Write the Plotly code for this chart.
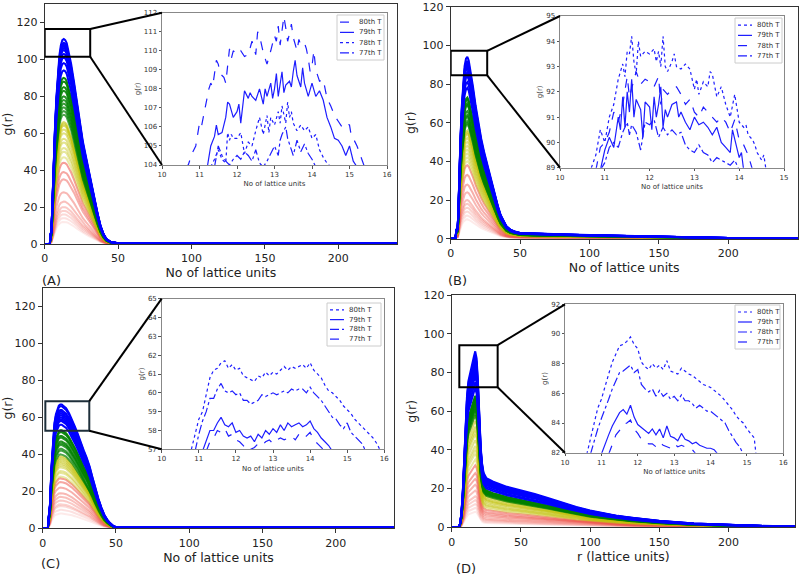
import plotly.graph_objects as go

# ---------------- main-panel data ----------------
# profile of one curve (normalised to its peak) and the peak height of each curve
A_x = [0, 3.5, 4, 4.5, 5, 6, 7, 8, 9, 10, 11, 12, 13, 14, 15, 16, 18, 20, 22, 24, 26, 28, 30, 32, 34, 36, 38, 40, 42, 45, 50, 240]
A_profile = [0, 0, 0.05, 0.06, 0.15, 0.38, 0.57, 0.72, 0.84, 0.92, 0.97, 0.995, 1.0, 0.995, 0.98, 0.95, 0.88, 0.79, 0.69, 0.59, 0.50, 0.43, 0.36, 0.29, 0.21, 0.15, 0.09, 0.05, 0.025, 0.01, 0.004, 0.004]
A_red = [12, 14, 16, 18, 20, 23, 28, 35, 39, 44]
A_yellow = [47, 50, 52, 55, 57, 60, 62, 64, 65, 66]
A_green = [70, 72, 74, 76, 78, 80, 83, 85, 88, 90]
A_blue = [94, 98, 101, 103, 105, 106, 107, 108, 109, 111]

B_x = [0, 3.5, 4, 5, 5.5, 6, 7, 8, 9, 10, 11, 12, 13, 14, 16, 18, 20, 22, 24, 26, 28, 30, 32, 34, 36, 38, 40, 43, 46, 50, 60, 80, 100, 130, 160, 200, 250]
B_profile = [0, 0, 0.05, 0.06, 0.15, 0.3, 0.55, 0.73, 0.86, 0.95, 0.99, 1.0, 0.98, 0.94, 0.84, 0.73, 0.63, 0.55, 0.48, 0.42, 0.36, 0.29, 0.23, 0.18, 0.13, 0.1, 0.07, 0.05, 0.04, 0.032, 0.028, 0.024, 0.02, 0.014, 0.008, 0.004, 0.003]
B_red = [10, 12, 14, 16, 18, 20, 24, 28, 33, 38]
B_yellow = [40, 42, 44, 46, 48, 50, 52, 54, 55, 56]
B_green = [59, 60, 61, 63, 64, 66, 69, 70, 72, 73]
B_blue = [78, 81, 84, 86, 88, 89, 90, 91, 92, 94]

C_x = [0, 3.5, 4, 5, 6, 7, 8, 9, 10, 11, 12, 13, 14, 16, 18, 20, 22, 24, 26, 28, 30, 32, 34, 36, 38, 40, 42, 44, 46, 48, 50, 240]
C_profile = [0, 0, 0.08, 0.2, 0.5, 0.72, 0.85, 0.92, 0.96, 0.99, 1.0, 1.0, 0.99, 0.97, 0.93, 0.88, 0.82, 0.76, 0.69, 0.63, 0.57, 0.5, 0.41, 0.32, 0.24, 0.17, 0.11, 0.07, 0.04, 0.02, 0.01, 0.008]
C_red = [8, 10, 12, 13, 15, 17, 19, 22, 25, 27]
C_yellow = [28, 30, 31, 33, 34, 35, 36, 37, 38, 39]
C_green = [40, 42, 43, 45, 46, 47, 49, 50, 52, 53]
C_blue = [56, 58, 59, 60, 61, 62, 63, 64, 66, 67]

D_x = [0, 5, 6, 7, 8, 9, 10, 11, 12, 13, 14, 15, 16, 17, 18, 19, 20, 21, 22, 23, 25, 30, 40, 50, 60, 70, 80, 90, 100, 110, 120, 130, 150, 175, 200, 225, 248]
D_profile = [0, 0, 0.02, 0.08, 0.2, 0.38, 0.58, 0.74, 0.83, 0.87, 0.9, 0.93, 0.97, 1.0, 0.96, 0.82, 0.62, 0.45, 0.36, 0.31, 0.28, 0.26, 0.23, 0.21, 0.19, 0.165, 0.14, 0.115, 0.095, 0.08, 0.065, 0.055, 0.037, 0.022, 0.014, 0.008, 0.005]
D_red = [8, 10, 12, 14, 16, 19, 22, 25, 28, 32]
D_yellow = [35, 38, 40, 42, 45, 48, 50, 52, 55, 58]
D_green = [58, 60, 61, 62, 63, 64, 65, 66, 67, 68]
D_blue = [72, 75, 78, 80, 82, 84, 86, 88, 89, 91]

# ---------------- inset data ----------------
IA80_x = [10.6, 10.7, 10.8, 10.9, 11.0, 11.05, 11.1, 11.2, 11.25, 11.3, 11.35, 11.45, 11.5, 11.55, 11.65, 11.7, 11.8, 11.85, 11.9, 12.0, 12.1, 12.2, 12.3, 12.4, 12.5, 12.55, 12.6, 12.7, 12.8, 12.9, 13.0, 13.05, 13.1, 13.15, 13.2, 13.25, 13.3, 13.35, 13.4, 13.45, 13.5, 13.6, 13.65, 13.7, 13.8, 13.85, 13.9, 13.95, 14.0, 14.05, 14.1, 14.2, 14.3, 14.4, 14.5, 14.6, 14.7, 14.8, 14.9, 15.0, 15.05, 15.1, 15.2, 15.3, 15.35, 15.4]
IA80_y = [103.9, 104.0, 104.6, 105.0, 106.2, 106.0, 106.5, 107.6, 108.0, 108.3, 108.1, 109.5, 109.3, 108.8, 108.6, 108.3, 110.1, 109.6, 110.0, 109.8, 110.0, 109.7, 109.8, 110.5, 109.8, 111.0, 110.8, 109.9, 109.3, 110.0, 110.8, 110.5, 111.3, 110.3, 111.1, 111.8, 111.2, 110.5, 110.9, 111.4, 110.7, 110.0, 110.6, 110.3, 110.4, 110.1, 109.6, 108.9, 109.2, 110.0, 109.0, 108.4, 108.5, 107.5, 107.1, 106.6, 106.3, 106.0, 106.2, 106.1, 105.5, 105.4, 105.0, 104.5, 104.2, 103.9]
IA79_x = [11.2, 11.3, 11.4, 11.45, 11.5, 11.6, 11.7, 11.75, 11.8, 11.85, 11.9, 12.0, 12.05, 12.1, 12.2, 12.3, 12.35, 12.4, 12.5, 12.6, 12.7, 12.75, 12.8, 12.9, 12.95, 13.0, 13.05, 13.1, 13.2, 13.25, 13.3, 13.4, 13.45, 13.5, 13.55, 13.6, 13.7, 13.75, 13.8, 13.9, 14.0, 14.1, 14.2, 14.3, 14.4, 14.5, 14.6, 14.7, 14.8, 14.9, 15.0, 15.1, 15.2]
IA79_y = [103.8, 105.0, 105.5, 106.1, 105.6, 105.7, 106.5, 107.3, 107.2, 106.8, 106.5, 106.8, 107.2, 106.2, 107.9, 107.5, 107.8, 107.6, 107.4, 108.0, 107.2, 108.0, 107.6, 108.3, 107.5, 108.0, 108.8, 107.6, 108.9, 107.8, 108.2, 108.4, 108.1, 108.9, 109.5, 108.7, 108.1, 109.1, 108.3, 107.6, 108.3, 107.6, 107.9, 107.4, 106.5, 106.0, 105.4, 105.3, 105.0, 104.5, 105.0, 104.2, 103.9]
IA78_x = [11.3, 11.4, 11.5, 11.6, 11.7, 11.75, 11.8, 11.85, 11.9, 12.0, 12.1, 12.2, 12.3, 12.4, 12.5, 12.6, 12.7, 12.8, 12.85, 12.9, 13.0, 13.1, 13.15, 13.2, 13.3, 13.35, 13.4, 13.45, 13.5, 13.6, 13.7, 13.8, 13.9, 14.0, 14.1, 14.2, 14.3, 14.4, 14.5]
IA78_y = [103.9, 104.3, 104.8, 104.3, 104.1, 105.7, 105.3, 105.6, 105.4, 105.4, 105.7, 104.6, 105.2, 105.0, 105.8, 106.5, 105.6, 106.6, 105.7, 106.5, 106.1, 106.8, 106.2, 107.1, 106.2, 107.3, 106.5, 106.8, 106.2, 105.8, 106.1, 105.8, 106.0, 105.4, 105.6, 104.8, 104.4, 104.1, 103.9]
IA77_x = [11.4, 11.5, 11.6, 11.7, 11.8, 11.9, 12.0, 12.1, 12.2, 12.3, 12.4, 12.5, 12.6, 12.7, 12.8, 12.9, 13.0, 13.1, 13.15, 13.2, 13.3, 13.35, 13.4, 13.5, 13.6, 13.7, 13.8, 13.9, 14.0, 14.1]
IA77_y = [103.9, 105.0, 104.5, 104.2, 104.0, 104.3, 104.5, 104.3, 104.7, 104.5, 104.2, 104.8, 104.1, 103.9, 104.2, 104.6, 105.0, 104.5, 105.3, 105.6, 106.0, 105.4, 105.1, 104.5, 105.3, 104.7, 105.1, 104.6, 104.3, 103.9]

IB80_x = [10.7, 10.8, 10.9, 11.0, 11.1, 11.2, 11.3, 11.4, 11.45, 11.5, 11.55, 11.6, 11.65, 11.7, 11.75, 11.8, 11.9, 12.0, 12.1, 12.15, 12.2, 12.25, 12.3, 12.35, 12.4, 12.5, 12.55, 12.6, 12.7, 12.8, 12.9, 13.0, 13.05, 13.1, 13.2, 13.3, 13.35, 13.4, 13.5, 13.6, 13.7, 13.75, 13.8, 13.9, 14.0, 14.1, 14.15, 14.2, 14.3, 14.35, 14.4, 14.5, 14.55, 14.6]
IB80_y = [89.0, 89.5, 90.5, 90.0, 91.0, 91.5, 92.5, 93.1, 92.6, 93.6, 93.5, 94.2, 93.2, 92.7, 94.0, 93.4, 93.6, 93.5, 93.7, 93.2, 93.6, 93.0, 94.2, 93.0, 92.8, 93.2, 93.5, 93.0, 92.9, 93.1, 92.9, 92.1, 92.5, 91.9, 92.4, 92.2, 92.8, 92.7, 91.8, 92.2, 91.5, 91.2, 91.0, 91.9, 90.8, 90.6, 90.7, 90.3, 90.1, 89.9, 89.6, 89.3, 89.5, 88.9]
IB79_x = [10.9, 11.0, 11.1, 11.2, 11.3, 11.35, 11.4, 11.45, 11.5, 11.55, 11.6, 11.65, 11.7, 11.8, 11.85, 11.9, 12.0, 12.05, 12.1, 12.15, 12.2, 12.25, 12.3, 12.35, 12.4, 12.5, 12.6, 12.65, 12.7, 12.8, 12.9, 13.0, 13.1, 13.2, 13.3, 13.4, 13.5, 13.6, 13.7, 13.8, 13.85, 13.9, 14.0, 14.05, 14.1]
IB79_y = [88.9, 89.7, 90.2, 89.8, 91.0, 90.5, 91.8, 90.6, 92.0, 91.2, 92.5, 91.0, 91.7, 91.3, 90.2, 91.6, 91.4, 90.5, 91.8, 91.0, 91.5, 92.2, 90.6, 91.3, 91.0, 91.5, 91.6, 91.0, 91.2, 90.8, 90.5, 91.0, 90.7, 90.8, 90.6, 90.3, 90.6, 90.0, 89.8, 89.6, 90.5, 90.1, 89.4, 89.6, 88.9]
IB78_x = [10.8, 10.9, 11.0, 11.1, 11.2, 11.3, 11.4, 11.5, 11.55, 11.6, 11.7, 11.8, 11.9, 12.0, 12.1, 12.2, 12.25, 12.3, 12.4, 12.5, 12.6, 12.7, 12.8, 12.9, 13.0, 13.1, 13.2, 13.3, 13.4, 13.5, 13.6, 13.7, 13.8, 13.9, 14.0, 14.1, 14.2, 14.3]
IB78_y = [88.9, 89.8, 90.0, 90.4, 91.2, 90.8, 91.5, 92.6, 91.8, 92.1, 92.8, 92.3, 92.5, 92.4, 92.2, 92.6, 91.5, 92.1, 91.9, 92.1, 92.2, 91.9, 91.5, 91.7, 91.2, 91.0, 91.4, 91.2, 91.0, 90.8, 91.0, 90.8, 90.4, 90.9, 90.1, 89.9, 89.5, 88.9]
IB77_x = [10.9, 11.0, 11.1, 11.2, 11.3, 11.4, 11.5, 11.55, 11.6, 11.7, 11.8, 11.9, 12.0, 12.1, 12.2, 12.3, 12.4, 12.5, 12.6, 12.7, 12.8, 12.9, 13.0, 13.1, 13.2, 13.3, 13.4, 13.5, 13.6, 13.7, 13.8, 13.9, 14.0]
IB77_y = [88.9, 89.2, 89.8, 90.0, 89.8, 90.4, 90.8, 90.3, 90.7, 90.4, 89.7, 90.8, 90.7, 90.9, 90.2, 90.6, 90.3, 90.5, 90.3, 90.4, 89.9, 89.7, 89.6, 89.9, 89.6, 89.5, 89.2, 89.4, 89.3, 89.2, 89.1, 89.3, 88.9]

IC80_x = [10.8, 10.9, 11.0, 11.1, 11.2, 11.3, 11.4, 11.5, 11.6, 11.7, 11.8, 11.9, 12.0, 12.1, 12.2, 12.3, 12.4, 12.5, 12.6, 12.7, 12.8, 12.9, 13.0, 13.1, 13.2, 13.3, 13.4, 13.5, 13.6, 13.7, 13.8, 13.9, 14.0, 14.1, 14.2, 14.3, 14.4, 14.5, 14.6, 14.7, 14.8, 14.9, 15.0, 15.1, 15.2, 15.3, 15.4, 15.5, 15.6, 15.7, 15.8, 15.9]
IC80_y = [57.0, 57.8, 58.6, 59.0, 60.0, 60.8, 61.2, 61.3, 61.6, 61.7, 61.3, 61.5, 61.2, 61.3, 60.9, 60.8, 60.7, 60.6, 60.9, 60.8, 61.1, 60.9, 61.1, 61.0, 61.2, 61.4, 61.2, 61.4, 61.3, 61.4, 61.5, 61.3, 61.6, 61.2, 61.0, 60.8, 60.4, 60.1, 60.0, 59.8, 59.6, 59.3, 59.1, 58.9, 58.6, 58.4, 58.2, 58.0, 57.8, 57.6, 57.3, 56.9]
IC79_x = [11.1, 11.2, 11.3, 11.4, 11.5, 11.6, 11.7, 11.8, 11.9, 12.0, 12.1, 12.2, 12.3, 12.4, 12.5, 12.6, 12.7, 12.8, 12.9, 13.0, 13.1, 13.2, 13.3, 13.4, 13.5, 13.6, 13.7, 13.8, 13.9, 14.0, 14.1, 14.2, 14.3, 14.4, 14.5, 14.6]
IC79_y = [56.9, 57.5, 58.0, 58.0, 58.4, 58.7, 58.3, 58.2, 58.4, 57.9, 58.0, 57.7, 57.6, 57.7, 57.4, 57.8, 57.6, 58.0, 57.8, 58.1, 57.9, 58.3, 58.0, 58.4, 58.2, 58.3, 58.4, 58.2, 58.3, 58.5, 58.1, 57.9, 57.6, 57.4, 57.2, 56.9]
IC78_x = [10.9, 11.0, 11.1, 11.2, 11.3, 11.4, 11.5, 11.6, 11.7, 11.8, 11.9, 12.0, 12.1, 12.2, 12.3, 12.4, 12.5, 12.6, 12.7, 12.8, 12.9, 13.0, 13.1, 13.2, 13.3, 13.4, 13.5, 13.6, 13.7, 13.8, 13.9, 14.0, 14.1, 14.2, 14.3, 14.4, 14.5, 14.6, 14.7, 14.8, 14.9, 15.0, 15.1, 15.2, 15.3, 15.4, 15.5]
IC78_y = [56.9, 57.8, 58.5, 59.0, 59.7, 59.7, 60.2, 60.5, 60.1, 60.0, 60.1, 59.9, 60.0, 59.6, 59.6, 59.4, 59.5, 59.6, 59.9, 59.8, 59.9, 60.0, 59.9, 60.0, 60.1, 60.0, 60.2, 60.1, 60.2, 60.2, 60.0, 60.3, 60.0, 59.8, 59.6, 59.3, 59.0, 58.7, 58.6, 58.3, 58.1, 58.4, 57.9, 57.7, 57.5, 57.3, 56.9]
IC77_x = [11.2, 11.3, 11.4, 11.5, 11.6, 11.7, 11.8, 11.9, 12.0, 12.1, 12.2, 12.3, 12.4, 12.5, 12.6, 12.7, 12.8, 12.9, 13.0, 13.1, 13.2, 13.3, 13.4, 13.5, 13.6, 13.7, 13.8, 13.9, 14.0, 14.1, 14.2, 14.3, 14.4]
IC77_y = [56.9, 57.4, 57.6, 58.0, 57.9, 58.1, 57.7, 57.8, 57.5, 57.4, 57.2, 56.9, 57.0, 57.1, 57.3, 57.2, 57.4, 57.5, 57.3, 57.5, 57.6, 57.5, 57.6, 57.7, 57.5, 57.8, 57.6, 57.7, 57.9, 57.5, 57.3, 57.1, 56.9]

ID80_x = [10.6, 10.7, 10.8, 10.9, 11.0, 11.1, 11.2, 11.3, 11.4, 11.5, 11.6, 11.7, 11.8, 11.9, 12.0, 12.1, 12.2, 12.3, 12.4, 12.5, 12.6, 12.7, 12.8, 12.9, 13.0, 13.1, 13.2, 13.3, 13.4, 13.5, 13.6, 13.7, 13.8, 13.9, 14.0, 14.1, 14.2, 14.3, 14.4, 14.5, 14.6, 14.7, 14.8, 14.9, 15.0, 15.1, 15.2, 15.25]
ID80_y = [81.9, 83.0, 84.0, 85.0, 85.6, 86.5, 87.3, 88.1, 88.6, 89.2, 89.3, 89.5, 89.8, 89.3, 89.0, 88.1, 87.8, 87.6, 88.0, 87.7, 87.9, 87.6, 88.2, 87.5, 87.4, 87.3, 87.7, 87.5, 87.3, 87.2, 87.0, 86.8, 86.6, 86.5, 86.4, 86.2, 86.0, 85.8, 85.5, 85.2, 84.9, 84.5, 84.2, 84.0, 83.6, 83.3, 83.0, 81.9]
ID79_x = [11.0, 11.1, 11.2, 11.3, 11.4, 11.5, 11.6, 11.7, 11.8, 11.9, 12.0, 12.1, 12.2, 12.3, 12.4, 12.5, 12.6, 12.7, 12.8, 12.9, 13.0, 13.1, 13.2, 13.3, 13.4, 13.5, 13.6, 13.7, 13.8, 13.9, 14.0, 14.1, 14.2]
ID79_y = [81.9, 82.6, 83.2, 83.8, 84.3, 84.7, 84.9, 84.6, 85.2, 84.4, 83.9, 83.7, 83.5, 83.3, 83.6, 83.2, 83.6, 83.0, 83.8, 83.1, 83.0, 82.8, 83.3, 82.9, 82.8, 82.6, 82.7, 82.5, 82.4, 82.3, 82.3, 82.2, 81.9]
ID78_x = [10.7, 10.8, 10.9, 11.0, 11.1, 11.2, 11.3, 11.4, 11.5, 11.6, 11.7, 11.8, 11.9, 12.0, 12.1, 12.2, 12.3, 12.4, 12.5, 12.6, 12.7, 12.8, 12.9, 13.0, 13.1, 13.2, 13.3, 13.4, 13.5, 13.6, 13.7, 13.8, 13.9, 14.0, 14.1, 14.2, 14.3, 14.4, 14.5, 14.6, 14.7, 14.8, 14.9]
ID78_y = [81.9, 82.8, 83.6, 84.3, 84.9, 85.6, 86.3, 86.8, 87.4, 87.5, 87.7, 87.9, 87.4, 87.6, 86.6, 86.3, 86.1, 86.3, 85.8, 86.2, 85.8, 86.0, 85.6, 85.8, 85.5, 85.9, 85.5, 85.5, 85.3, 85.0, 85.2, 85.0, 84.8, 84.8, 84.6, 84.4, 84.2, 84.0, 83.5, 83.1, 82.7, 82.4, 81.9]
ID77_x = [11.2, 11.3, 11.4, 11.5, 11.6, 11.7, 11.8, 11.9, 12.0, 12.1, 12.2, 12.3, 12.4, 12.5, 12.6, 12.7, 12.8, 12.9, 13.0, 13.1, 13.2, 13.3, 13.4, 13.5, 13.6]
ID77_y = [81.9, 82.6, 83.2, 83.5, 83.9, 84.0, 84.2, 83.6, 83.3, 82.9, 82.7, 82.6, 82.6, 82.4, 82.7, 82.5, 82.4, 82.3, 82.6, 82.4, 82.5, 82.4, 82.3, 82.2, 81.9]

# ---------------- layout geometry (pixels of the 800x576 page) ----------------
W, H = 800, 576
FONT = "DejaVu Sans"
INSET_BLUE = "rgb(30,30,255)"


def px_x(p):
    return p / W


def px_y(p):
    return 1 - p / H


panels = {
    "A": dict(xd=[px_x(44.7), px_x(397)], yd=[px_y(244), px_y(4)], xr=[0, 240], yr=[0, 130],
              xt="No of lattice units", lab=(40, 280),
              prof=(A_x, A_profile), groups=(A_red, A_yellow, A_green, A_blue),
              rect=(0, 31, 101.4, 116.5), rectcol="black",
              ixd=[px_x(162), px_x(387)], iyd=[px_y(165), px_y(12.7)], ixr=[10, 16], iyr=[104, 112],
              ixt=[10, 11, 12, 13, 14, 15, 16], iyt=[104, 105, 106, 107, 108, 109, 110, 111, 112],
              leg=(337, 15, 47, 45),
              lines=[("80th T", IA80_x, IA80_y, "dash"), ("79th T", IA79_x, IA79_y, "solid"),
                     ("78th T", IA78_x, IA78_y, "dot"), ("77th T", IA77_x, IA77_y, "dashdot")]),
    "B": dict(xd=[px_x(450.7), px_x(797.7)], yd=[px_y(238.7), px_y(6.7)], xr=[0, 250], yr=[0, 120],
              xt="No of lattice units", lab=(446, 280),
              prof=(B_x, B_profile), groups=(B_red, B_yellow, B_green, B_blue),
              rect=(0, 26.3, 84.5, 97.2), rectcol="black",
              ixd=[px_x(560), px_x(784)], iyd=[px_y(167.7), px_y(16)], ixr=[10, 15], iyr=[89, 95],
              ixt=[10, 11, 12, 13, 14, 15], iyt=[89, 90, 91, 92, 93, 94, 95],
              leg=(735, 18, 47, 45),
              lines=[("80th T", IB80_x, IB80_y, "dot"), ("79th T", IB79_x, IB79_y, "solid"),
                     ("78th T", IB78_x, IB78_y, "dash"), ("77th T", IB77_x, IB77_y, "dashdot")]),
    "C": dict(xd=[px_x(42.7), px_x(394.3)], yd=[px_y(528.3), px_y(288)], xr=[0, 240], yr=[0, 130],
              xt="No of lattice units", lab=(39, 563),
              prof=(C_x, C_profile), groups=(C_red, C_yellow, C_green, C_blue),
              rect=(1.8, 31.8, 52.8, 68.8), rectcol="#1e2f3a",
              ixd=[px_x(161.7), px_x(384.3)], iyd=[px_y(449.3), px_y(298.7)], ixr=[10, 16], iyr=[57, 65],
              ixt=[10, 11, 12, 13, 14, 15, 16], iyt=[57, 58, 59, 60, 61, 62, 63, 64, 65],
              leg=(327, 303, 54, 43),
              lines=[("80th T", IC80_x, IC80_y, "dot"), ("79th T", IC79_x, IC79_y, "solid"),
                     ("78th T", IC78_x, IC78_y, "dashdot"), ("77th T", IC77_x, IC77_y, "dash")]),
    "D": dict(xd=[px_x(451.7), px_x(795)], yd=[px_y(527.3), px_y(295.3)], xr=[0, 248], yr=[0, 120],
              xt="r (lattice units)", lab=(454, 568),
              prof=(D_x, D_profile), groups=(D_red, D_yellow, D_green, D_blue),
              rect=(5.5, 33.2, 72.4, 94.2), rectcol="black",
              ixd=[px_x(565), px_x(783.3)], iyd=[px_y(452.7), px_y(304.3)], ixr=[10, 16], iyr=[82, 92],
              ixt=[10, 11, 12, 13, 14, 15, 16], iyt=[82, 84, 86, 88, 90, 92],
              leg=(735, 305, 45, 44),
              lines=[("80th T", ID80_x, ID80_y, "dot"), ("79th T", ID79_x, ID79_y, "solid"),
                     ("78th T", ID78_x, ID78_y, "dashdot"), ("77th T", ID77_x, ID77_y, "dash")]),
}

group_styles = [((238, 80, 70), 0.12, 0.55, 2.0),
                ((191, 191, 0), 0.35, 0.6, 2.0),
                ((0, 128, 0), 0.7, 0.95, 2.0),
                ((0, 0, 255), 1.0, 1.0, 2.0)]

fig = go.Figure()
layout = dict(width=W, height=H, margin=dict(l=0, r=0, t=0, b=0, pad=0), autosize=False,
              template="none", showlegend=False,
              paper_bgcolor="white", plot_bgcolor="white",
              font=dict(family=FONT, color="#222"), shapes=[], annotations=[])

for i, key in enumerate(["A", "B", "C", "D"]):
    p = panels[key]
    mi = i + 1
    ii = i + 5
    xa_m, ya_m = f"x{mi if mi > 1 else ''}", f"y{mi if mi > 1 else ''}"
    xa_i, ya_i = f"x{ii}", f"y{ii}"

    # main curves
    xs, prof = p["prof"]
    for (rgb, a0, a1, lw), peaks in zip(group_styles, p["groups"]):
        n = len(peaks)
        for k, pk in enumerate(peaks):
            a = a0 + (a1 - a0) * (k / (n - 1) if n > 1 else 1)
            fig.add_trace(go.Scatter(x=xs, y=[pk * v for v in prof], mode="lines",
                                     line=dict(color=f"rgba({rgb[0]},{rgb[1]},{rgb[2]},{a:.3f})", width=lw),
                                     xaxis=xa_m, yaxis=ya_m, showlegend=False, hoverinfo="skip"))

    # inset curves
    for name, lx, ly, dash in p["lines"]:
        m = min(len(lx), len(ly))
        fig.add_trace(go.Scatter(x=lx[:m], y=ly[:m], mode="lines", name=name,
                                 line=dict(color=INSET_BLUE, width=1.2, dash=dash),
                                 xaxis=xa_i, yaxis=ya_i, showlegend=False))

    axname_x = "xaxis" if mi == 1 else f"xaxis{mi}"
    axname_y = "yaxis" if mi == 1 else f"yaxis{mi}"
    common = dict(showgrid=False, zeroline=False, showline=True, mirror=True, automargin=False)
    layout[axname_x] = dict(domain=p["xd"], range=p["xr"], anchor=ya_m, linecolor="#333", linewidth=1,
                            ticks="outside", ticklen=4, tickcolor="#333",
                            tickvals=[0, 50, 100, 150, 200], tickfont=dict(size=11, color="#222"),
                            title=dict(text=p["xt"], font=dict(size=12.5, color="#222"), standoff=4), **common)
    layout[axname_y] = dict(domain=p["yd"], range=p["yr"], anchor=xa_m, linecolor="#333", linewidth=1,
                            ticks="outside", ticklen=4, tickcolor="#333",
                            tickvals=[0, 20, 40, 60, 80, 100, 120], tickfont=dict(size=11, color="#222"),
                            title=dict(text="g(r)", font=dict(size=12.5, color="#222"), standoff=4), **common)
    layout[f"xaxis{ii}"] = dict(domain=p["ixd"], range=p["ixr"], anchor=ya_i, linecolor="#888", linewidth=1,
                                ticks="outside", ticklen=2.5, tickcolor="#555",
                                tickvals=p["ixt"], tickfont=dict(size=7, color="#333"),
                                title=dict(text="No of lattice units", font=dict(size=7, color="#333"), standoff=3),
                                **common)
    layout[f"yaxis{ii}"] = dict(domain=p["iyd"], range=p["iyr"], anchor=xa_i, linecolor="#888", linewidth=1,
                                ticks="outside", ticklen=2.5, tickcolor="#555",
                                tickvals=p["iyt"], tickfont=dict(size=7, color="#333"),
                                title=dict(text="g(r)", font=dict(size=7, color="#333"), standoff=2),
                                **common)

    # hand-drawn legend box for the inset
    lx0, ly0, lw_, lh_ = p["leg"]
    layout["shapes"].append(dict(type="rect", xref="paper", yref="paper",
                                 x0=px_x(lx0), x1=px_x(lx0 + lw_), y0=px_y(ly0 + lh_), y1=px_y(ly0),
                                 line=dict(color="#cccccc", width=1), fillcolor="white", layer="above"))
    row_h = (lh_ - 4) / 4.0
    for r, (name, _, _, dash) in enumerate(p["lines"]):
        yy = ly0 + 2 + row_h * (r + 0.5)
        layout["shapes"].append(dict(type="line", xref="paper", yref="paper",
                                     x0=px_x(lx0 + 3), x1=px_x(lx0 + 17), y0=px_y(yy), y1=px_y(yy),
                                     line=dict(color=INSET_BLUE, width=1.2, dash=dash), layer="above"))
        layout["annotations"].append(dict(text=name, xref="paper", yref="paper", x=px_x(lx0 + 20), y=px_y(yy),
                                          xanchor="left", yanchor="middle", showarrow=False,
                                          font=dict(size=7, color="#333")))

    # zoom rectangle and connector lines
    x0, x1, y0, y1 = p["rect"]
    layout["shapes"].append(dict(type="rect", xref=xa_m, yref=ya_m, x0=x0, x1=x1, y0=y0, y1=y1,
                                 line=dict(color=p["rectcol"], width=2), fillcolor="rgba(0,0,0,0)"))

    def to_paper(xd, yd, p=p):
        px = p["xd"][0] + (xd - p["xr"][0]) / (p["xr"][1] - p["xr"][0]) * (p["xd"][1] - p["xd"][0])
        py = p["yd"][0] + (yd - p["yr"][0]) / (p["yr"][1] - p["yr"][0]) * (p["yd"][1] - p["yd"][0])
        return px, py

    tr = to_paper(x1, y1)
    br = to_paper(x1, y0)
    layout["shapes"].append(dict(type="line", xref="paper", yref="paper", x0=tr[0], y0=tr[1],
                                 x1=p["ixd"][0], y1=p["iyd"][1], line=dict(color="black", width=2)))
    layout["shapes"].append(dict(type="line", xref="paper", yref="paper", x0=br[0], y0=br[1],
                                 x1=p["ixd"][0], y1=p["iyd"][0], line=dict(color="black", width=2)))

    # panel label
    lx, ly = p["lab"]
    layout["annotations"].append(dict(text=f"({key})", xref="paper", yref="paper", x=px_x(lx), y=px_y(ly),
                                      xanchor="left", yanchor="middle", showarrow=False,
                                      font=dict(size=13, color="#222")))

fig.update_layout(**layout)
fig.write_html("out.html", config={"displayModeBar": False, "staticPlot": True},
               post_script="document.body.style.margin='0px';document.body.style.overflow='hidden';")
